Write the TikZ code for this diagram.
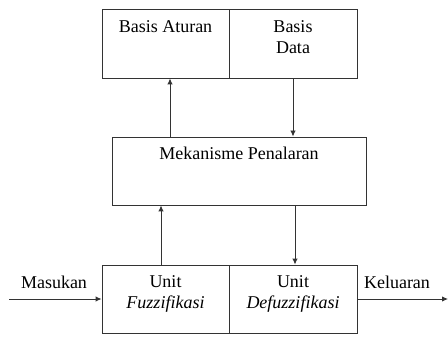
\documentclass[tikz,border=0pt]{standalone}
\usepackage{fontspec}
\setmainfont{Liberation Serif}
\usetikzlibrary{arrows.meta}
\tikzset{
  box/.style={draw=black!80, line width=0.9pt, rectangle, inner sep=0pt},
  toplbl/.style={anchor=north, inner sep=0pt, align=center, font=\fontsize{18}{21}\selectfont},
  arr/.style={draw=black!80, line width=0.9pt, -{Latex[length=6pt,width=5.5pt]}},
  side/.style={inner sep=0pt, anchor=base, font=\fontsize{18}{21}\selectfont}
}
\begin{document}
\begin{tikzpicture}[x=1pt,y=-1pt]
\useasboundingbox (0,0) rectangle (448,337);
% top boxes
\node[box, minimum width=127pt, minimum height=69pt,
  label={[toplbl, yshift=-12pt]north:Basis Aturan}] (ba) at (165.5,43.5) {};
\node[box, minimum width=128pt, minimum height=69pt,
  label={[toplbl, yshift=-12pt]north:Basis\\Data}] (bd) at (293,43.5) {};
% middle box
\node[box, minimum width=254pt, minimum height=68pt,
  label={[toplbl, yshift=-10pt]north:Mekanisme Penalaran}] (mp) at (239,171) {};
% bottom boxes
\node[box, minimum width=127pt, minimum height=68pt,
  label={[toplbl, yshift=-11pt]north:Unit\\\textit{Fuzzifikasi}}] (uf) at (165.5,299) {};
\node[box, minimum width=128pt, minimum height=68pt,
  label={[toplbl, yshift=-11pt]north:Unit\\\textit{Defuzzifikasi}}] (ud) at (293,299) {};
% side labels
\node[side] (masukan) at (54,288) {Masukan};
\node[side] (keluaran) at (397,288) {Keluaran};
\coordinate (in) at (9,299);
\coordinate (out) at (448,299);
% connectors
\draw[arr] (in) -- (uf.west);
\draw[arr] (ud.east) -- (out);
\draw[arr] ([xshift=-4.5pt]uf.north) -- ([xshift=-4.5pt]uf.north |- mp.south);
\draw[arr] ([xshift=56pt]mp.south) -- ([xshift=56pt]mp.south |- ud.north);
\draw[arr] ([xshift=-69pt]mp.north) -- ([xshift=-69pt]mp.north |- ba.south);
\draw[arr] (bd.south) -- (bd.south |- mp.north);
\end{tikzpicture}
\end{document}
